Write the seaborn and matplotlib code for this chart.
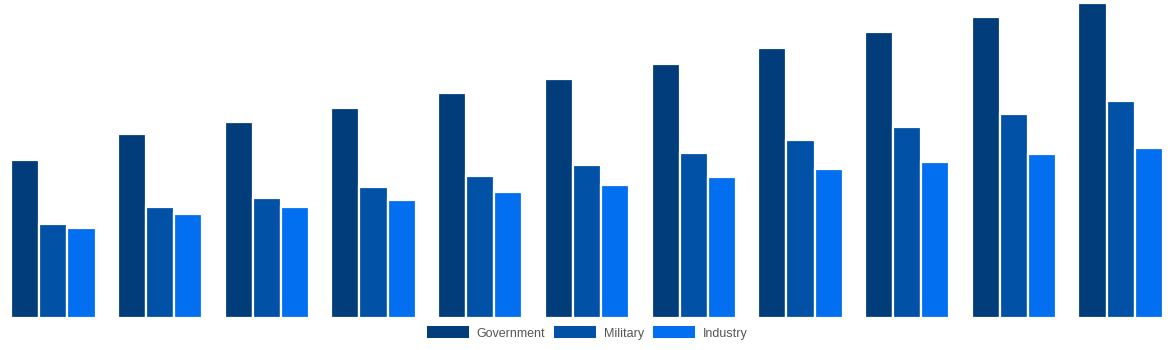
import matplotlib
matplotlib.use("Agg")
import matplotlib.pyplot as plt
import seaborn as sns
import pandas as pd

categories = ["G1", "G2", "G3", "G4", "G5", "G6", "G7", "G8", "G9", "G10", "G11"]
series_names = ["Government", "Military", "Industry"]
government = [158, 184, 196, 210, 225, 239, 254, 270, 286, 301, 315]
military = [94, 111, 120, 131, 142, 153, 165, 178, 191, 204, 217]
industry = [90, 104, 111, 118, 126, 133, 141, 149, 156, 164, 170]
colors = ["#023d7b", "#0152a7", "#026ff0"]

rows = []
for name, vals in zip(series_names, [government, military, industry]):
    for c, v in zip(categories, vals):
        rows.append({"category": c, "series": name, "value": v})
df = pd.DataFrame(rows)

sns.set_theme(style="white")
plt.rcParams['font.family'] = ['Liberation Sans', 'DejaVu Sans']

fig = plt.figure(figsize=(11.74, 3.5), dpi=100)
ax = fig.add_axes([0, 1 - 318 / 350, 1, 318 / 350])
sns.barplot(data=df, x="category", y="value", hue="series", palette=colors,
            saturation=1, width=0.79, edgecolor="white", linewidth=1.6, ax=ax, legend=True)
ax.set_xlim(-0.5, 10.5)
ax.set_ylim(0, 318)
ax.set_xlabel("")
ax.set_ylabel("")
ax.set_xticks([])
ax.set_yticks([])
for s in ax.spines.values():
    s.set_visible(False)

handles, labels = ax.get_legend_handles_labels()
ax.get_legend().remove()
for h in handles:
    h.set_edgecolor("none")
leg = fig.legend(handles, labels, loc="center", bbox_to_anchor=(587 / 1174, 1 - 333 / 350),
                 ncol=3, frameon=False, fontsize=9, handlelength=3.4, handleheight=1.1,
                 handletextpad=0.6, columnspacing=0.7, borderpad=0)
for t in leg.get_texts():
    t.set_color("#555555")

fig.savefig("out.png", dpi=100)
